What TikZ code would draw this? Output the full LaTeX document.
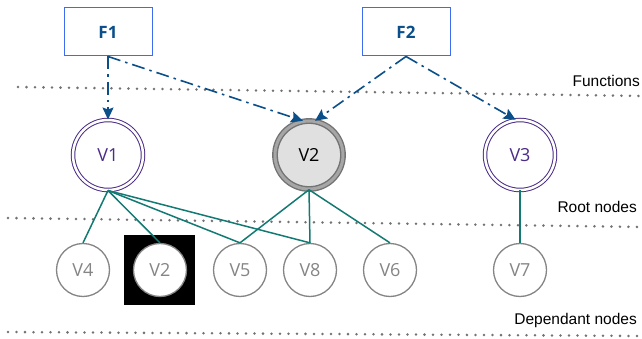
\documentclass[tikz,border=0pt]{standalone}
\usepackage{fontspec}
\setmainfont{Liberation Sans}
\newfontfamily\vfont{Open Sans}
\usepackage{tikz}
\usetikzlibrary{arrows.meta}
\usetikzlibrary{calc}
\definecolor{fnblue}{HTML}{0B4F8A}
\definecolor{boxblue}{HTML}{3D6BF2}
\definecolor{rootpurple}{HTML}{4B2C87}
\definecolor{edgeteal}{HTML}{137A73}
\definecolor{depgray}{HTML}{858585}
\tikzstyle{function}=[rectangle,draw=boxblue,line width=1pt,fill=white,minimum width=88pt,minimum height=48pt,inner sep=0pt,text=fnblue,font=\vfont\bfseries\fontsize{17}{20}\selectfont]
\tikzstyle{rootvertex}=[circle,draw=rootpurple,double=white,line width=1pt,double distance=2.5pt,minimum size=70pt,inner sep=0pt,text=rootpurple,font=\vfont\fontsize{18}{21}\selectfont]
\tikzstyle{sharedvertex}=[circle,draw=black!55,double=black!35,line width=1.4pt,double distance=3pt,fill=black!12,minimum size=68pt,inner sep=0pt,text=black,font=\vfont\fontsize{18}{21}\selectfont]
\tikzstyle{depvertex}=[circle,draw=depgray,line width=1.3pt,fill=white,minimum size=53pt,inner sep=0pt,text=depgray,font=\vfont\fontsize{18}{21}\selectfont]
\tikzstyle{calls}=[line width=1.6pt,draw=fnblue,dash pattern=on 13pt off 5pt on 2.5pt off 5pt,-{Stealth[length=12pt,width=11pt,inset=2pt]}]
\tikzstyle{depends}=[line width=1.5pt,draw=edgeteal]
\tikzstyle{layer}=[line width=2.8pt,draw=black!55,dash pattern=on 0pt off 8.5pt,line cap=round]
\tikzstyle{layerlabel}=[anchor=east,inner sep=0pt,font=\fontsize{15.5}{18}\selectfont]

\begin{document}
\begin{tikzpicture}[x=1pt,y=-1pt]

   \useasboundingbox (0,0) rectangle (642,339);

   % layers
   \draw[layer] (18,87) -- (642,96);
   \draw[layer] (8,218) -- (642,227);
   \draw[layer] (8,332) -- (642,336);

   \node[layerlabel] (lfun) at (640,81) {Functions};
   \node[layerlabel] (lroot) at (637,207) {Root nodes};
   \node[layerlabel] (ldep) at (637,320) {Dependant nodes};

   \node[function] (f1) at (108,32) {F1};
   \node[function] (f2) at (406,32) {F2};

   \node[rootvertex] (v1) at (108,155) {V1};
   \node[sharedvertex] (v2) at (309,155) {V2};
   \node[rootvertex] (v3) at (520,155) {V3};

   \fill[black] (124,235) rectangle (195,305);

    \foreach \pos/\name/\txt in {{(83,270)/v4/V4}, {(160,270)/w2/V2}, {(240,270)/v5/V5}, {(310,270)/v8/V8}, {(390,270)/v6/V6}, {(520,270)/v7/V7}}
        \node[depvertex] (\name) at \pos {\txt};

    \foreach \source/\dest in {v1/v4, v1/w2, v1/v5, v1/v8, v2/v5, v2/v8, v2/v6, v3/v7}
                \draw[depends] (\source.south) -- (\dest.north);

\draw[calls] (f1.south) -- (v1.north);
\draw[calls] (f1.south) -- (v2.100);
\draw[calls] (f2.south) -- (v2.80);
\draw[calls] (f2.south) -- (v3.97);

\end{tikzpicture}
\end{document}
